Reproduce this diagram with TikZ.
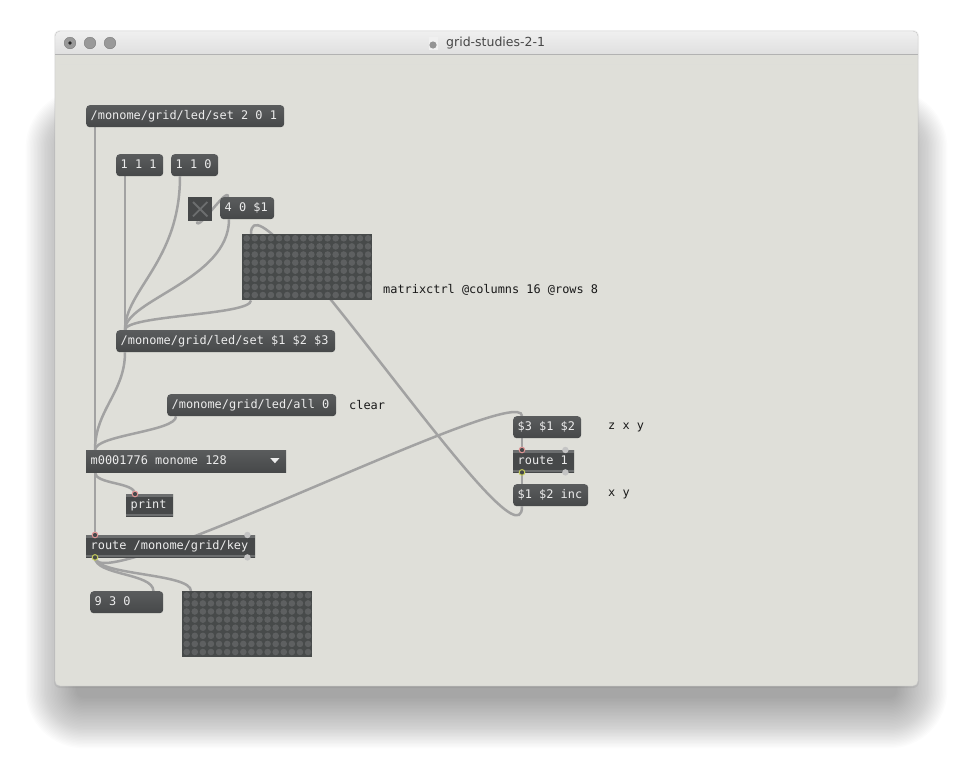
\documentclass[tikz,border=0pt]{standalone}
\usepackage{fontspec}
\usepackage{tikz}
\newfontfamily\maxfont{DejaVu Sans Mono}
\newfontfamily\titlefont{DejaVu Sans}
\definecolor{patchbg}{RGB}{223,223,217}
\definecolor{boxtop}{RGB}{90,92,93}
\definecolor{boxbot}{RGB}{70,72,73}
\definecolor{boxtext}{RGB}{236,236,236}
\definecolor{cordcol}{RGB}{162,162,162}
\definecolor{stripcol}{RGB}{108,110,111}
\definecolor{gridcol}{RGB}{71,74,74}
\definecolor{dotcol}{RGB}{94,96,97}
\definecolor{inletcol}{RGB}{226,150,150}
\definecolor{outletcol}{RGB}{196,204,92}
\definecolor{portcol}{RGB}{196,196,196}
\pgfdeclarelayer{win}
\pgfdeclarelayer{wires}
\pgfsetlayers{win,wires,main}

\begin{document}
\begin{tikzpicture}[x=1pt,y=-1pt,
  msg/.style={anchor=north west,rounded corners=3.5,top color=boxtop,bottom color=boxbot,
    text=boxtext,font=\maxfont\fontsize{11.9}{14}\selectfont,inner xsep=4.5,inner ysep=0,
    minimum height=22,text height=8.5,text depth=2.5,align=flush left},
  menu/.style={msg,sharp corners},
  obj/.style={msg,sharp corners,top color=boxbot,bottom color=boxbot,
    path picture={
      \fill[stripcol] (path picture bounding box.north west) rectangle ([yshift=-2.5pt]path picture bounding box.north east);
      \fill[stripcol] ([yshift=2.5pt]path picture bounding box.south west) rectangle (path picture bounding box.south east);}},
  gridbox/.style={anchor=north west,fill=gridcol,inner sep=0,minimum width=130,minimum height=66},
  tgl/.style={anchor=north west,fill=boxbot,inner sep=0,minimum size=24},
  cmt/.style={anchor=west,inner sep=0,text=black!90,font=\maxfont\fontsize{11.9}{14}\selectfont},
  cord/.style={draw=cordcol,line width=2.5},
]
\useasboundingbox (0,0) rectangle (974,766);

% window
\begin{pgfonlayer}{win}
\foreach \k [evaluate=\k as \r using 8+1.4*\k] in {0,...,36}
  \fill[black,opacity=0.0135,rounded corners=\r] (76-1.4*\k,140-1.4*\k) rectangle (897+1.4*\k,698+1.4*\k);
\fill[black,opacity=0.05,rounded corners=6] (54,30) rectangle (919,688);
\fill[patchbg,rounded corners=5] (55,31) rectangle (918,686);
\shade[top color=black!6,bottom color=black!15,rounded corners=5] (55,31) rectangle (918,64);
\fill[patchbg] (55,54) rectangle (918,64);
\draw[black!30] (55,54) -- (918,54);
\draw[black!22,rounded corners=5] (55,31) rectangle (918,686);
\foreach \x in {70,90,110}
  \draw[fill=black!40,draw=black!52] (\x,43) circle (5.8);
\fill[black!85] (70,43) circle (1.8);
\fill[black!6] (428.5,37) rectangle (437.5,50);
\fill[black!42] (433,45) circle (3.6);
\node[anchor=west,inner sep=0,text=black!72,font=\titlefont\fontsize{12.5}{15}\selectfont] (title0) at (446,43) {grid-studies-2-1};
\end{pgfonlayer}

\node[msg,text width=189] (msg0) at (86,105) {/monome/grid/led/set 2 0 1};

\node[msg,text width=38] (msg1) at (116,154) {1 1 1};
\node[msg,text width=38] (msg2) at (171,154) {1 1 0};

\node[tgl] (toggle0) at (188,197) {};
\node[msg,text width=45] (msg3) at (220,197) {4 0 \$1};

\node[gridbox] (matrix0) at (242,234) {};
\node[cmt] (label0) at (383,290) {matrixctrl @columns 16 @rows 8};

\node[msg,text width=210] (msg4) at (116,330) {/monome/grid/led/set \$1 \$2 \$3};

\node[msg,text width=160] (msg5) at (167,394) {/monome/grid/led/all 0};
\node[cmt] (label1) at (349,405) {clear};

\node[menu,text width=191] (menu0) at (86,450) {m0001776 monome 128};
\node[obj,text width=38] (print0) at (126,494) {print};
\node[obj,text width=160] (route0) at (86,535) {route /monome/grid/key};

\node[msg,text width=64] (msg6) at (90,591) {9 3 0};
\node[gridbox] (matrix1) at (182,591) {};

\node[msg,text width=59] (msg7) at (513,416) {\$3 \$1 \$2};
\node[cmt] (label2) at (608,427) {z x y};
\node[obj,text width=52] (route1) at (513,450) {route 1};
\node[msg,text width=66] (msg8) at (513,484) {\$1 \$2 inc};
\node[cmt] (label3) at (608,494) {x y};

% inlets and outlets
\coordinate (msg0out) at ([xshift=9pt]msg0.south west);
\coordinate (msg1out) at ([xshift=9pt]msg1.south west);
\coordinate (msg2out) at ([xshift=9pt]msg2.south west);
\coordinate (toggle0out) at ([xshift=9pt]toggle0.south west);
\coordinate (msg3in) at ([xshift=8pt]msg3.north west);
\coordinate (msg3out) at ([xshift=9pt]msg3.south west);
\coordinate (matrix0in) at ([xshift=9pt]matrix0.north west);
\coordinate (matrix0out) at ([xshift=9pt]matrix0.south west);
\coordinate (msg4in) at ([xshift=9pt]msg4.north west);
\coordinate (msg4out) at ([xshift=9pt]msg4.south west);
\coordinate (msg5out) at ([xshift=9pt]msg5.south west);
\coordinate (menu0in) at ([xshift=9pt]menu0.north west);
\coordinate (menu0out) at ([xshift=9pt]menu0.south west);
\coordinate (print0in) at ([xshift=9pt]print0.north west);
\coordinate (route0in) at ([xshift=9pt]route0.north west);
\coordinate (route0out) at ([xshift=9pt]route0.south west);
\coordinate (msg6in) at ([xshift=-10pt]msg6.north east);
\coordinate (matrix1in) at ([xshift=9pt]matrix1.north west);
\coordinate (msg7in) at ([xshift=9pt]msg7.north west);
\coordinate (msg7out) at ([xshift=9pt]msg7.south west);
\coordinate (route1in) at ([xshift=9pt]route1.north west);
\coordinate (route1out) at ([xshift=9pt]route1.south west);
\coordinate (msg8in) at ([xshift=9pt]msg8.north west);
\coordinate (msg8out) at ([xshift=9pt]msg8.south west);

% patch cords
\begin{pgfonlayer}{wires}
\draw[cord] (msg0out) -- (menu0in);
\draw[cord] (msg1out) -- (msg4in);
\draw[cord] (msg2out) .. controls +(0,85) and +(0,-40) .. (msg4in);
\draw[cord] (toggle0out) .. controls +(0,12) and +(0,-12) .. (msg3in);
\draw[cord] (msg3out) .. controls +(0,60) and +(0,-30) .. (msg4in);
\draw[cord] (matrix0out) .. controls +(0,15) and +(0,-15) .. (msg4in);
\draw[cord] (msg4out) .. controls +(0,40) and +(0,-40) .. (menu0in);
\draw[cord] (msg5out) .. controls +(0,15) and +(0,-15) .. (menu0in);
\draw[cord] (menu0out) .. controls +(0,12) and +(0,-12) .. (print0in);
\draw[cord] (menu0out) -- (route0in);
\draw[cord] (route0out) .. controls +(0,43) and +(0,-36) .. (msg7in);
\draw[cord] (route0out) .. controls +(0,18) and +(0,-18) .. (msg6in);
\draw[cord] (route0out) .. controls +(0,18) and +(0,-18) .. (matrix1in);
\draw[cord] (msg7out) -- (route1in);
\draw[cord] (route1out) -- (msg8in);
\draw[cord] (msg8out) .. controls +(0,75) and +(0,-75) .. (matrix0in);
\end{pgfonlayer}

% matrixctrl cells
\foreach \m in {matrix0,matrix1} {
  \begin{scope}[shift={(\m.north west)}]
    \foreach \i in {0,...,15}
      \foreach \j in {0,...,7}
        \fill[dotcol] (4.7+8.09*\i,4.3+8.1*\j) circle (3.3);
  \end{scope}
}

% toggle cross and menu arrow
\draw[stripcol,line width=1.8] ([shift={(5pt,5pt)}]toggle0.south west) -- ([shift={(-5pt,-5pt)}]toggle0.north east);
\draw[stripcol,line width=1.8] ([shift={(5pt,-5pt)}]toggle0.north west) -- ([shift={(-5pt,5pt)}]toggle0.south east);
\fill[boxtext] ([xshift=-16pt,yshift=3pt]menu0.east) -- ++(9,0) -- ++(-4.5,5) -- cycle;

% port markers
\draw[inletcol,fill=boxbot,line width=1] (print0in) circle (2.8);
\draw[inletcol,fill=boxbot,line width=1] (route0in) circle (2.8);
\draw[outletcol,fill=boxbot,line width=1] (route0out) circle (2.8);
\fill[portcol] ([xshift=-8pt]route0.north east) circle (3.2);
\fill[portcol] ([xshift=-8pt]route0.south east) circle (3.2);
\draw[inletcol,fill=boxbot,line width=1] (route1in) circle (2.8);
\draw[outletcol,fill=boxbot,line width=1] (route1out) circle (2.8);
\fill[portcol] ([xshift=-9pt]route1.north east) circle (3.2);
\fill[portcol] ([xshift=-9pt]route1.south east) circle (3.2);
\end{tikzpicture}
\end{document}
